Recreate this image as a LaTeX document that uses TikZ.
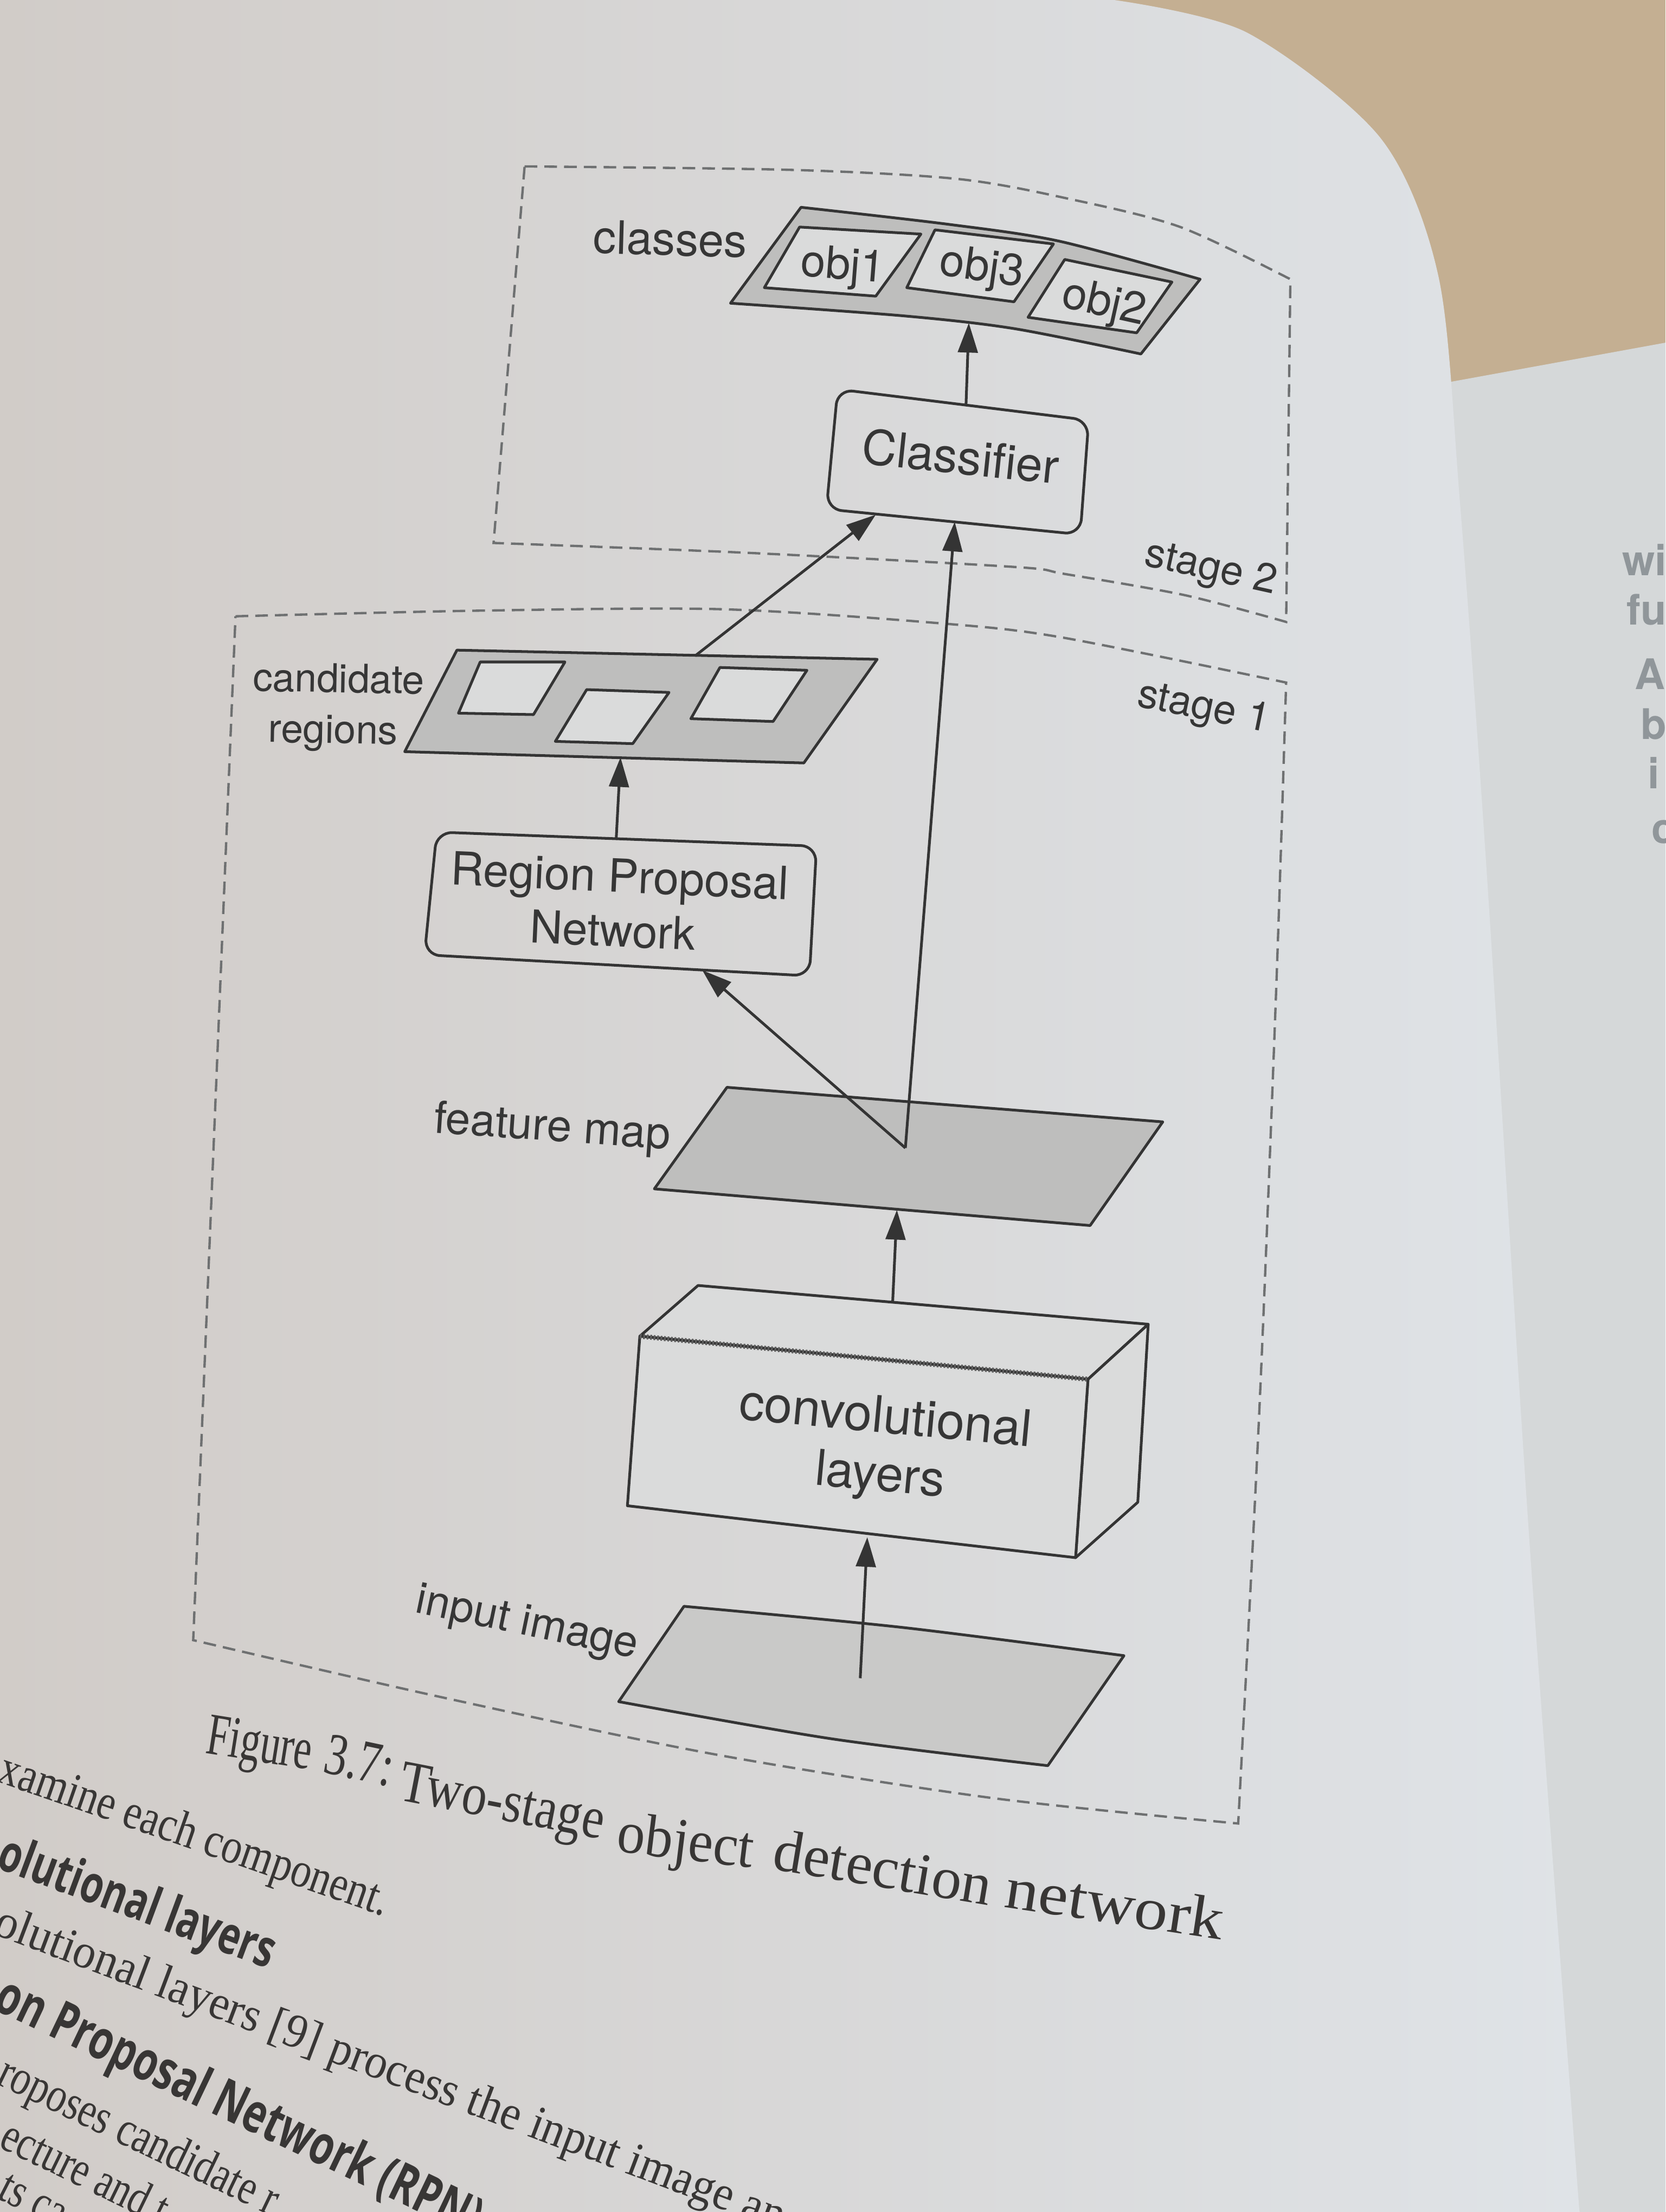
\documentclass[tikz,border=0pt]{standalone}
\usepackage{fontspec}
\usetikzlibrary{arrows.meta}
\setmainfont{Liberation Serif}
\newfontfamily\sansfig{TeX Gyre Heros}
\newfontfamily\headsans{Open Sans}
\newcommand\diagfont[1]{\sansfig\fontsize{#1}{#1}\selectfont}
\newcommand\bodyfont[1]{\rmfamily\fontsize{#1}{#1}\selectfont}
\newcommand\headfont[1]{\headsans\bfseries\fontsize{#1}{#1}\selectfont}

\definecolor{ink}{HTML}{343434}
\definecolor{txt}{HTML}{363636}
\definecolor{bodytxt}{HTML}{383635}
\definecolor{dashc}{HTML}{6E7071}
\definecolor{mapfill}{HTML}{BEBEBD}
\definecolor{imgfill}{HTML}{C9C9C8}
\definecolor{slotfill}{HTML}{DADBDB}
\definecolor{paperL}{HTML}{D1CCC8}
\definecolor{paperR}{HTML}{DFE3E7}
\definecolor{backdrop}{HTML}{C4AF92}
\definecolor{nextpage}{HTML}{D5D8D9}
\definecolor{ghost}{HTML}{90969A}

\tikzset{
  frame/.style={draw=dashc, line width=0.95pt, dash pattern=on 0.18cm off 0.1cm},
  plate/.style={draw=ink, line width=1.1pt, fill=mapfill, line join=round},
  photo/.style={draw=ink, line width=1.1pt, fill=imgfill, line join=round},
  slot/.style={draw=ink, line width=1.1pt, fill=slotfill, line join=round},
  block/.style={draw=ink, line width=1.1pt, rounded corners=0.22cm},
  cube/.style={draw=ink, line width=1.1pt, line join=round},
  flow/.style={draw=ink, line width=1.1pt, -{Triangle[length=0.42cm,width=0.28cm]}},
  lbl/.style={inner sep=0pt, text=txt, anchor=base},
  prose/.style={inner sep=0pt, text=bodytxt, anchor=base west},
}

\begin{document}
\begin{tikzpicture}[x=0.02cm, y=-0.02cm]
\useasboundingbox (0,0) rectangle (1181,1568.5);
\clip (0,0) rectangle (1181,1568.5);

% ---- backdrop, facing page and the curled page ----
\fill[backdrop] (0,0) rectangle (1181,1568.5);
\fill[nextpage] (1000,276) -- (1181,243) -- (1181,1568.5) -- (1000,1568.5) -- cycle;
\foreach \t/\py/\px in {wi/408/1150, fu/443/1153, A/489/1159, be/524/1163, i/559/1168, c/598/1171}
  \node[inner sep=0pt, anchor=base west, text=ghost, font=\diagfont{17}\bfseries] at (\px,\py) {\t};
\shade[left color=paperL, right color=paperR]
  (0,0) -- (790,0) -- plot[smooth] coordinates {(790,0) (884,23) (979,98) (1020,196) (1035,353) (1054,615) (1085,1100) (1120,1568.5)}
  -- (0,1568.5) -- cycle;

% ---- stage frames ----
\draw[frame] plot[smooth] coordinates {(372,118) (562,120.5) (680,127) (758,141) (837,161) (915,198)}
  -- (912,441) -- plot[smooth] coordinates {(912,441) (840,422) (755,407) (719,402) (530,392) (350,385)} -- cycle;
\draw[frame] plot[smooth] coordinates {(167,437) (340,433) (512,432) (667,442) (753,452) (912,484)}
  -- plot[smooth] coordinates {(912,484) (905,700) (893,1000) (878,1293)}
  -- plot[smooth] coordinates {(878,1293) (704,1275) (507,1244) (311,1203) (137,1163)} -- cycle;
\node[lbl, font=\diagfont{16.5}, rotate=-12.5] (stage2) at (857,411) {stage 2};
\node[lbl, font=\diagfont{16.5}, rotate=-11.5] (stage1) at (852,510) {stage 1};

% ---- classes strip ----
\filldraw[plate] plot[smooth] coordinates {(568,147) (672,159) (751,171) (851,198)}
  -- (809,251) -- plot[smooth] coordinates {(809,251) (719,233) (641,224) (518,215)} -- cycle;
\filldraw[slot] (567,161) -- (653,166) -- (621,210) -- (542,204) -- cycle;
\filldraw[slot] (663,163) -- (747,173) -- (719,214) -- (643,204) -- cycle;
\filldraw[slot] (755,184) -- (831,200) -- (806,236) -- (729,225) -- cycle;
\node[lbl, font=\diagfont{18.6}, rotate=-1.6] (classes) at (475,181) {classes};
\node[lbl, font=\diagfont{18}, rotate=-4.5] (obj1) at (597,198) {obj1};
\node[lbl, font=\diagfont{18}, rotate=-8] (obj3) at (695,199) {obj3};
\node[lbl, font=\diagfont{18}, rotate=-12.5] (obj2) at (781,224) {obj2};
\coordinate (classes-in) at (687,229);

% ---- classifier ----
\draw[block] (594,276) -- (772,298) -- (766,379) -- (586,361) -- cycle;
\node[lbl, font=\diagfont{19.4}, rotate=-6] (clf) at (680,336) {Classifier};
\coordinate (clf-out) at (685,287);
\coordinate (clf-in-rois) at (621,365);
\coordinate (clf-in-map) at (677,370);

% ---- candidate regions ----
\filldraw[plate] (324,461) -- (622,467.5) -- (570,541) -- (287,533) -- cycle;
\filldraw[slot] (340.5,469.4) -- (400.6,469.4) -- (378.3,506.7) -- (325.1,505.7) -- cycle;
\filldraw[slot] (416,489) -- (474.4,491) -- (448.7,527.3) -- (393.8,525.7) -- cycle;
\filldraw[slot] (510.5,473.3) -- (572.2,475.3) -- (548.2,511.6) -- (489.9,509.6) -- cycle;
\node[lbl, font=\diagfont{16}, rotate=-1] (cand1) at (240,491) {candidate};
\node[lbl, font=\diagfont{16}, rotate=-1] (cand2) at (236,527) {regions};
\coordinate (rois-out) at (493,465);
\coordinate (rois-in) at (440,537);

% ---- region proposal network ----
\draw[block] (309.7,590) -- (579,600) -- (574,692) -- (301,677) -- cycle;
\node[lbl, font=\diagfont{18.5}, rotate=-2.6] (rpn1) at (439,632.6) {Region Proposal};
\node[lbl, font=\diagfont{18.3}, rotate=-2.6] (rpn2) at (434,671) {Network};
\coordinate (rpn-out) at (437,594);
\coordinate (rpn-in) at (498,688);

% ---- feature map ----
\filldraw[plate] (515.5,771) -- (824.5,795.5) -- (773,869) -- (464,843) -- cycle;
\node[lbl, font=\diagfont{18}, rotate=-4] (fmap) at (391,809) {feature map};
\coordinate (fmap-out) at (642,814);
\coordinate (fmap-in) at (636,858);

% ---- convolutional block ----
\filldraw[cube, fill=slotfill] (453.7,947.5) -- (495,911.5) -- (814.2,939) -- (771.5,978) -- cycle;
\filldraw[cube, fill=slotfill] (771.5,978) -- (814.2,939) -- (806.8,1065.2) -- (762.7,1104.5) -- cycle;
\filldraw[cube, fill=slotfill] (453.7,947.5) -- (771.5,978) -- (762.7,1104.5) -- (444.9,1067.7) -- cycle;
\draw[draw=ink!80, line width=2pt, dash pattern=on 0.7pt off 0.7pt] (453.7,947.5) -- (771.5,978);
\node[lbl, font=\diagfont{20.4}, rotate=-5.4] (conv1) at (627,1016) {convolutional};
\node[lbl, font=\diagfont{20}, rotate=-5.4] (conv2) at (623,1057) {layers};
\coordinate (conv-out) at (633,923);
\coordinate (conv-in) at (615,1090);

% ---- input image ----
\filldraw[photo] plot[smooth] coordinates {(485,1139) (640,1154) (797,1174)} -- (743,1252)
  -- plot[smooth] coordinates {(743,1252) (590,1233) (438.7,1206.6)} -- cycle;
\node[lbl, font=\diagfont{17.6}, rotate=-11.7] (inimg) at (372,1159.5) {input image};
\coordinate (img-out) at (610,1190);

% ---- connectors ----
\draw[flow] (img-out) -- (conv-in);
\draw[flow] (conv-out) -- (fmap-in);
\draw[flow] (fmap-out) -- (rpn-in);
\draw[flow] (fmap-out) -- (clf-in-map);
\draw[flow] (rpn-out) -- (rois-in);
\draw[flow] (rois-out) -- (clf-in-rois);
\draw[flow] (clf-out) -- (classes-in);

% ---- caption ----
\node[prose, font=\bodyfont{24}, rotate=-9, xscale=0.68] (cap1) at (145,1243) {Figure};
\node[prose, font=\bodyfont{24}, rotate=-12, xscale=0.76] (cap2) at (228,1256.6) {3.7:};
\node[prose, font=\bodyfont{24}, rotate=-11, xscale=0.84] (cap3) at (281.4,1276) {Two-stage};
\node[prose, font=\bodyfont{24}, rotate=-7, xscale=0.94] (cap4) at (436.3,1312.7) {object};
\node[prose, font=\bodyfont{24}, rotate=-9.4, xscale=1.01] (cap5) at (546.6,1325.4) {detection};
\node[prose, font=\bodyfont{24}, rotate=-8.6, xscale=1.13] (cap6) at (711,1352) {network};

% ---- running text below the figure ----
\node[prose, font=\bodyfont{20}, rotate=-19.2, xscale=0.83] (body1) at (-3,1263) {xamine each component.};
\node[prose, font=\headfont{21}, rotate=-20.4, xscale=0.72] (body2) at (-4,1324) {olutional layers};
\node[prose, font=\bodyfont{19.5}, rotate=-20.7, xscale=0.94] (body3) at (-6,1371) {olutional layers [9] process the input image an};
\node[prose, font=\headfont{22}, rotate=-25.5, xscale=0.72] (body4) at (-6,1424) {on Proposal Network (RPN)};
\node[prose, font=\bodyfont{20}, rotate=-25.7, xscale=0.8] (body5) at (-4,1477) {roposes candidate r};
\node[prose, font=\bodyfont{20}, rotate=-26, xscale=0.78] (body6) at (-2,1522) {ecture and t};
\node[prose, font=\bodyfont{20}, rotate=-27, xscale=0.78] (body7) at (-3,1558) {ts ca};
\end{tikzpicture}
\end{document}
